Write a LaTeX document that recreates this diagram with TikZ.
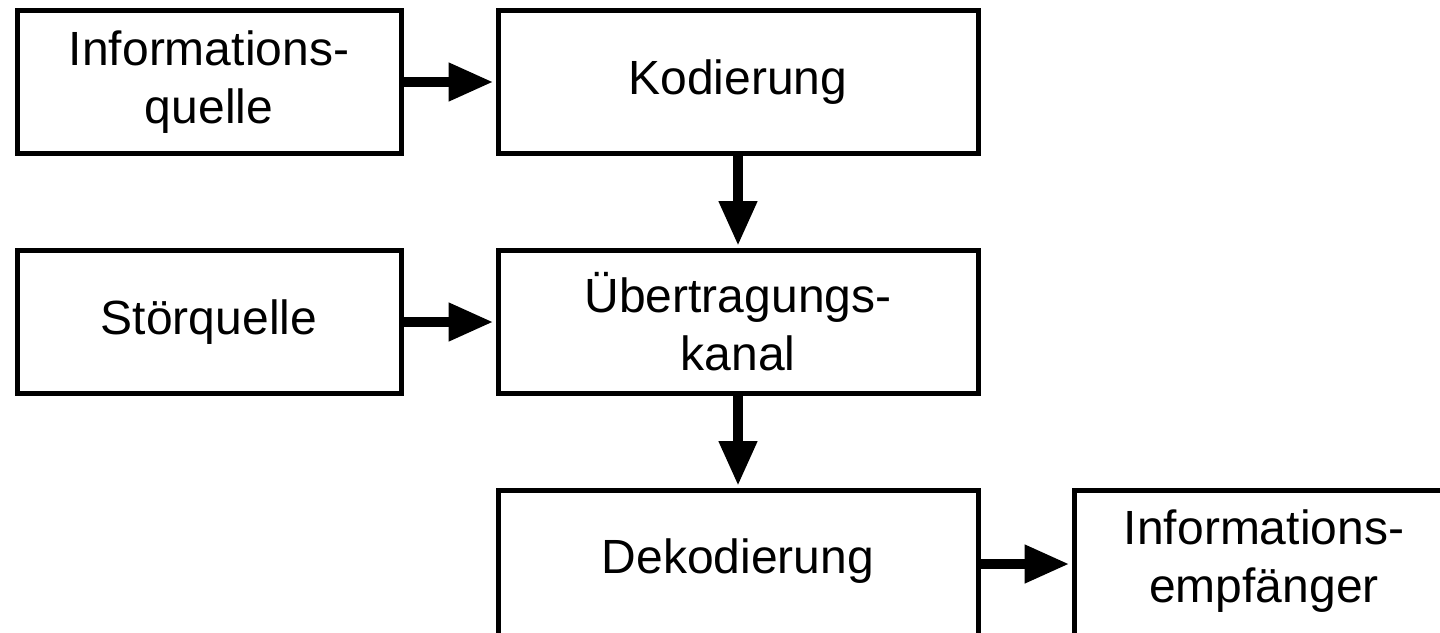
\documentclass[tikz,border=0pt]{standalone}
\usepackage{fontspec}
\setmainfont{Liberation Sans}
\usetikzlibrary{arrows.meta}
\begin{document}
\begin{tikzpicture}[x=1pt,y=-1pt,
  box/.style={draw=black, line width=5pt, inner sep=0pt, minimum height=143pt,
    align=center, font=\fontsize{48}{58}\selectfont},
  lowbox/.style={box, minimum height=160pt, text depth=28pt},
  flow/.style={line width=10.5pt, -{Triangle[length=45pt,width=36pt]}, shorten >=2pt}]
\useasboundingbox (0,0) rectangle (1440,632);
\clip (0,0) rectangle (1440,632);
\node[box, minimum width=384pt] (src)   at (209,82)  {Informations-\\quelle};
\node[box, minimum width=480pt] (enc)   at (738,82)  {Kodierung};
\node[box, minimum width=384pt] (noise) at (209,322) {Störquelle};
\node[box, minimum width=480pt] (chan)  at (738,322) {Übertragungs-\\kanal};
\node[lowbox, minimum width=480pt] (dec) at (738,570.5) {Dekodierung};
\node[lowbox, minimum width=380pt] (dst) at (1264,570.5) {Informations-\\empfänger};
\coordinate (row3) at (0,564);
\draw[flow] (src) -- (enc);
\draw[flow] (enc) -- (chan);
\draw[flow] (noise) -- (chan);
\draw[flow] (chan) -- (dec);
\draw[flow] (dec.east |- row3) -- (dst.west |- row3);
\end{tikzpicture}
\end{document}
